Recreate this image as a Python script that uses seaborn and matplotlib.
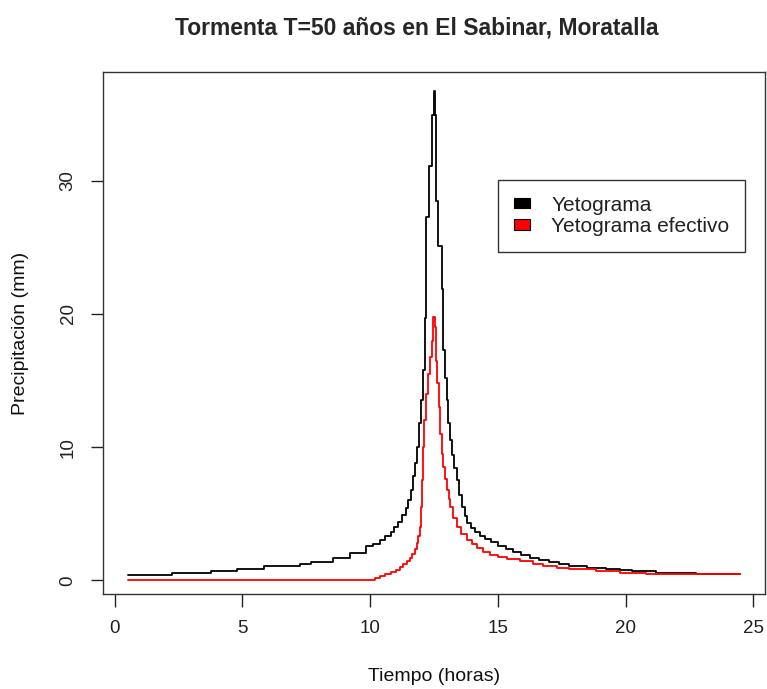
import matplotlib
matplotlib.use("Agg")
import matplotlib.pyplot as plt
import matplotlib.patches as mpatches
import pandas as pd
import seaborn as sns

# Total storm hyetograph: step start times (h) and depth per step (mm)
tiempo_total = [0.5, 2.25, 3.75, 4.8, 5.85, 7.25, 7.7, 8.55, 9.2, 9.85, 10.1,
                10.4, 10.6, 10.8, 10.95, 11.1, 11.25, 11.4, 11.5, 11.6, 11.68,
                11.76, 11.85, 11.93, 12.0, 12.08, 12.15, 12.19, 12.32, 12.42,
                12.50, 12.53, 12.59, 12.67, 12.8, 12.86, 12.93, 13.0, 13.06,
                13.12, 13.19, 13.28, 13.39, 13.48, 13.58, 13.7, 13.8, 13.95,
                14.1, 14.3, 14.5, 14.75, 15.0, 15.3, 15.6, 15.9, 16.25, 16.6,
                17.0, 17.4, 17.8, 18.5, 19.25, 19.8, 20.27, 21.2, 22.76, 24.5]
precip_total = [0.43, 0.55, 0.67, 0.85, 1.05, 1.25, 1.4, 1.68, 2.05, 2.55, 2.75,
                3.0, 3.3, 3.6, 4.0, 4.4, 4.9, 5.4, 6.0, 6.8, 7.8,
                8.8, 10.0, 11.8, 13.5, 15.8, 19.7, 27.3, 31.1, 34.9,
                36.7, 34.9, 28.5, 25.1, 21.9, 17.3, 15.2, 13.5, 11.8,
                10.5, 9.4, 8.4, 7.5, 6.4, 5.5, 4.8, 4.3, 3.9,
                3.6, 3.3, 3.1, 2.85, 2.6, 2.35, 2.1, 1.9, 1.7, 1.5,
                1.35, 1.2, 1.1, 0.95, 0.85, 0.75, 0.67, 0.55, 0.47, 0.47]

# Effective (runoff-producing) hyetograph
tiempo_efectivo = [0.5, 10.0, 10.2, 10.4, 10.6, 10.8, 11.0, 11.15, 11.3, 11.45,
                   11.56, 11.65, 11.74, 11.82, 11.88, 11.94, 11.98, 12.02, 12.07,
                   12.12, 12.2, 12.28, 12.36, 12.43, 12.47, 12.53, 12.58, 12.63,
                   12.68, 12.73, 12.8, 12.86, 12.93, 13.0, 13.07, 13.13, 13.25,
                   13.39, 13.55, 13.78, 14.0, 14.2, 14.43, 14.7, 15.0, 15.34,
                   15.86, 16.38, 16.77, 17.3, 17.8, 18.85, 19.77, 20.8, 24.5]
precip_efectivo = [0.0, 0.05, 0.15, 0.3, 0.45, 0.6, 0.8, 1.0, 1.2, 1.45,
                   1.7, 2.0, 2.35, 2.8, 3.3, 4.0, 5.5, 7.5, 10.0,
                   12.0, 14.0, 15.5, 16.8, 18.0, 19.8, 19.0, 16.5, 14.8,
                   13.0, 11.0, 9.5, 8.5, 7.6, 6.8, 6.1, 5.5, 4.7,
                   4.0, 3.5, 3.05, 2.7, 2.4, 2.1, 1.9, 1.75, 1.6,
                   1.42, 1.2, 1.05, 0.95, 0.85, 0.67, 0.55, 0.45, 0.45]

etiquetas_leyenda = ["Yetograma", "Yetograma efectivo"]
colores = ["#000000", "#ff0000"]

sns.set_theme(style="white")
plt.rcParams["font.family"] = ["Liberation Sans", "DejaVu Sans"]

W, H = 767, 689
fig = plt.figure(figsize=(W / 100, H / 100), dpi=100)
ax = fig.add_axes([103 / W, (H - 594) / H, 662 / W, 522 / H])

df_total = pd.DataFrame({"t": tiempo_total, "p": precip_total})
df_ef = pd.DataFrame({"t": tiempo_efectivo, "p": precip_efectivo})

sns.lineplot(data=df_total, x="t", y="p", ax=ax, color=colores[0], lw=1.3,
             drawstyle="steps-post", estimator=None, sort=False, legend=False)
sns.lineplot(data=df_ef, x="t", y="p", ax=ax, color=colores[1], lw=1.3,
             drawstyle="steps-post", estimator=None, sort=False, legend=False)

# R-style 4% axis extension based on the total series
xmin, xmax = min(tiempo_total), max(tiempo_total)
ymin, ymax = min(precip_total), max(precip_total)
dx, dy = 0.04 * (xmax - xmin), 0.04 * (ymax - ymin)
ax.set_xlim(xmin - dx, xmax + dx)
ax.set_ylim(ymin - dy, ymax + dy)

ax.set_xticks([0, 5, 10, 15, 20, 25])
ax.set_yticks([0, 10, 20, 30])
ax.tick_params(axis="both", direction="out", length=9, width=1, color="#222222",
               labelsize=13.5, pad=10, labelcolor="#222222")
ax.tick_params(axis="x", bottom=True)
ax.tick_params(axis="y", left=True)
for lab in ax.get_yticklabels():
    lab.set_rotation(90)
    lab.set_va("center")

for sp in ax.spines.values():
    sp.set_visible(True)
    sp.set_color("#333333")
    sp.set_linewidth(1.0)

ax.set_xlabel("Tiempo (horas)", fontsize=14, labelpad=22, color="#111111")
ax.set_ylabel("Precipitación (mm)", fontsize=14, labelpad=22, color="#111111")
fig.suptitle("Tormenta T=50 años en El Sabinar, Moratalla", fontsize=16.5,
             fontweight="bold", x=417 / W, y=1 - 28 / H, va="center")

handles = [mpatches.Patch(facecolor=c, edgecolor="#000000", lw=0.8) for c in colores]
leg = ax.legend(handles, etiquetas_leyenda, loc="upper left",
                bbox_to_anchor=((498 - 103) / 662, (594 - 180) / 522),
                borderaxespad=0, fontsize=15, frameon=True, fancybox=False,
                handlelength=0.8, handleheight=0.4, handletextpad=1.0,
                labelspacing=0.12, borderpad=0.75)
leg.get_frame().set_edgecolor("#000000")
leg.get_frame().set_linewidth(1.0)
for txt in leg.get_texts():
    txt.set_color("#222222")

ax.grid(False)
fig.savefig("out.png", dpi=100)
